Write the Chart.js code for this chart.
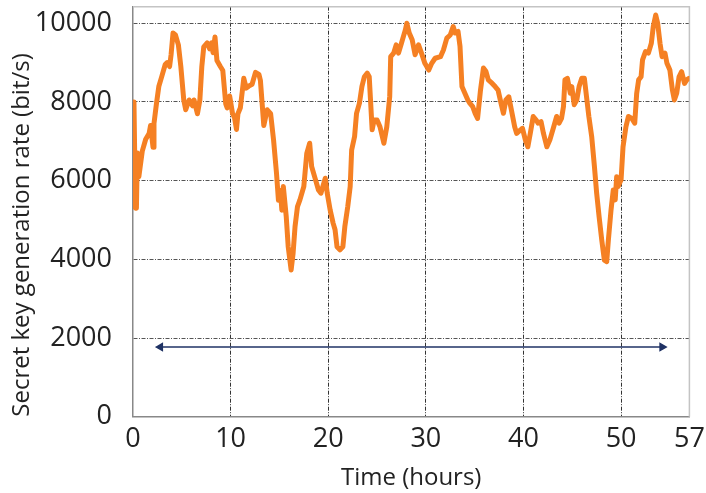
<!DOCTYPE html>
<html>
<head>
<meta charset="utf-8">
<title>Secret key generation rate</title>
<style>
  html, body { margin: 0; padding: 0; background: #fff; }
  #wrap { width: 706px; height: 493px; }
</style>
</head>
<body>
<div id="wrap"><canvas id="rateChart"></canvas></div>
<script src="https://cdn.jsdelivr.net/npm/chart.js@4.4.1/dist/chart.umd.min.js"></script>
<script>
// values
const hours = [
  0, 0.1, 0.25, 0.35, 0.45, 0.6, 0.95, 1.3, 1.65, 1.8, 2.05, 2.15, 2.4, 2.65, 2.95, 3.3, 3.5, 3.75, 3.9, 4.1,
  4.35, 4.65, 4.9, 5.2, 5.4, 5.75, 6.1, 6.25, 6.6, 6.85, 7.05, 7.25, 7.6, 7.85, 8.05, 8.2, 8.4, 8.6, 8.95, 9.2,
  9.5, 9.65, 9.9, 10.2, 10.4, 10.6, 10.75, 11.0, 11.35, 11.6, 11.85, 12.2, 12.55, 12.9, 13.05, 13.4, 13.75, 14.1, 14.4, 14.7,
  14.9, 15.1, 15.25, 15.4, 15.7, 15.9, 16.2, 16.4, 16.6, 16.85, 17.1, 17.5, 17.8, 18.1, 18.3, 18.7, 19.0, 19.25, 19.45, 19.7,
  19.9, 20.2, 20.5, 20.7, 20.9, 21.2, 21.5, 21.7, 22.0, 22.25, 22.4, 22.7, 22.9, 23.2, 23.45, 23.7, 24.0, 24.2, 24.5, 24.7,
  25.0, 25.3, 25.7, 26.0, 26.3, 26.4, 26.7, 26.96, 27.2, 27.5, 27.9, 28.05, 28.3, 28.6, 28.9, 29.25, 29.5, 29.9, 30.3, 30.6,
  30.95, 31.5, 31.8, 32.15, 32.5, 32.8, 33.0, 33.3, 33.5, 33.7, 34.0, 34.3, 34.5, 34.8, 35.05, 35.3, 35.6, 35.9, 36.15, 36.4,
  36.8, 37.1, 37.4, 37.7, 37.95, 38.2, 38.5, 38.8, 39.1, 39.3, 39.7, 39.9, 40.2, 40.45, 40.7, 41.0, 41.3, 41.5, 41.8, 42.05,
  42.4, 42.7, 43.1, 43.4, 43.65, 43.9, 44.1, 44.25, 44.5, 44.8, 44.95, 45.2, 45.46, 45.7, 45.97, 46.24, 46.5, 46.7, 46.99, 47.27,
  47.5, 47.75, 48.02, 48.29, 48.53, 48.7, 48.97, 49.2, 49.4, 49.55, 49.7, 50.0, 50.2, 50.5, 50.75, 51.1, 51.4, 51.6, 51.8, 52.05,
  52.2, 52.5, 52.8, 53.1, 53.3, 53.55, 53.75, 53.99, 54.2, 54.5, 54.7, 55.0, 55.26, 55.46, 55.7, 55.94, 56.2, 56.5, 56.72, 56.96
];
const rate = [
  7600, 8000, 5300, 5300, 6700, 6100, 6750, 7050, 7200, 7400, 6850, 7450, 7950, 8400, 8650, 8950, 9000, 8900, 9200, 9750,
  9700, 9450, 8900, 8050, 7800, 8050, 7900, 8050, 7700, 8050, 8900, 9400, 9500, 9350, 9500, 9250, 9650, 9050, 8900, 8800,
  7950, 7850, 8150, 7700, 7600, 7300, 7700, 7850, 8600, 8350, 8400, 8450, 8750, 8700, 8550, 7400, 7800, 7700, 7030, 6190,
  5500, 5750, 5250, 5850, 5080, 4320, 3730, 4150, 4830, 5340, 5510, 5850, 6690, 6950, 6360, 6020, 5760, 5680, 5850, 6060,
  5680, 5250, 4920, 4750, 4320, 4240, 4320, 4830, 5340, 5850, 6780, 7120, 7710, 7970, 8390, 8640, 8730, 8640, 7290, 7540,
  7540, 7370, 6950, 7370, 8140, 9150, 9240, 9450, 9240, 9490, 9830, 10000, 9750, 9580, 9200, 9450, 9280, 8980, 8810, 8980,
  9110, 9150, 9320, 9620, 9700, 9915, 9750, 9790, 9410, 8390, 8220, 8050, 7970, 7880, 7710, 7580, 8300, 8860, 8780, 8560,
  8470, 8390, 8300, 7970, 7710, 8050, 8130, 7750, 7370, 7200, 7290, 7330, 7030, 6860, 7200, 7630, 7540, 7460, 7500, 7200,
  6860, 7030, 7370, 7630, 7460, 7580, 7880, 8560, 8600, 8220, 8390, 7930, 8050, 8390, 8600, 8600, 8050, 7630, 7120, 6360,
  5680, 5080, 4490, 3980, 3940, 4490, 5250, 5760, 5510, 6100, 5850, 6020, 6860, 7370, 7630, 7580, 7460, 8220, 8560, 8640,
  9070, 9280, 9240, 9490, 9915, 10210, 10000, 9490, 9150, 9240, 8980, 8810, 8300, 8050, 8220, 8640, 8770, 8470, 8560, 8600
];

// the double arrow near the bottom
const arrowHours = [2.8, 54.2];
const arrowLevel = [1770, 1770];

const xTicks = [0, 10, 20, 30, 40, 50, 57];
const yTicks = [0, 2000, 4000, 6000, 8000, 10000];

const tickFont = { family: "'Open Sans', sans-serif", size: 27 };
const titleFont = { family: "'Open Sans', sans-serif", size: 24 };

// light top and right edges of the plot box
const framePlugin = {
  id: 'frame',
  beforeDatasetsDraw(chart) {
    const { ctx, chartArea: a } = chart;
    ctx.save();
    ctx.strokeStyle = '#c4c4c4';
    ctx.lineWidth = 1.5;
    ctx.beginPath();
    ctx.moveTo(a.left, a.top);
    ctx.lineTo(a.right, a.top);
    ctx.lineTo(a.right, a.bottom);
    ctx.stroke();
    ctx.restore();
  }
};

const ctx = document.getElementById('rateChart').getContext('2d');

const chart = new Chart(ctx, {
  type: 'line',
  data: {
    datasets: [
      {
        data: hours.map((h, i) => ({ x: h, y: rate[i] })),
        borderColor: '#f58023',
        borderWidth: 5,
        pointRadius: 0,
        tension: 0,
        borderJoinStyle: 'round',
        borderCapStyle: 'round'
      },
      {
        data: arrowHours.map((h, i) => ({ x: h, y: arrowLevel[i] })),
        borderColor: '#1f3264',
        backgroundColor: '#1f3264',
        borderWidth: 1.5,
        pointStyle: 'triangle',
        pointRadius: 4,
        pointRotation: [-90, 90],
        tension: 0
      }
    ]
  },
  options: {
    responsive: true,
    maintainAspectRatio: false,
    animation: false,
    layout: { padding: { left: 8, right: 16.6, top: 6.7, bottom: 0.6 } },
    plugins: {
      legend: { display: false },
      tooltip: { enabled: false }
    },
    scales: {
      x: {
        type: 'linear',
        min: 0,
        max: 57,
        afterBuildTicks: (s) => { s.ticks = xTicks.map(v => ({ value: v })); },
        afterFit: (s) => { s.height = 75.7; s.paddingLeft = 0; s.paddingRight = 0; },
        grid: {
          drawTicks: false,
          lineWidth: 1,
          color: (c) => (c.tick && (c.tick.value === 0 || c.tick.value === 57)) ? 'rgba(0,0,0,0)' : '#333'
        },
        border: { color: '#888', width: 1.5, dash: [4, 1.5, 1, 1.5] },
        ticks: {
          font: tickFont,
          color: '#222',
          padding: 6,
          maxRotation: 0,
          autoSkip: false,
          callback: (v) => String(v)
        },
        title: {
          display: true,
          text: 'Time (hours)',
          font: titleFont,
          color: '#222',
          padding: 0
        }
      },
      y: {
        min: 0,
        max: 10420,
        afterBuildTicks: (s) => { s.ticks = yTicks.map(v => ({ value: v })); },
        afterFit: (s) => { s.width = 125; s.paddingTop = 0; s.paddingBottom = 0; },
        grid: {
          drawTicks: false,
          lineWidth: 1,
          color: (c) => (c.tick && c.tick.value === 0) ? 'rgba(0,0,0,0)' : '#555'
        },
        border: { color: '#888', width: 1.5, dash: [4, 1.5, 1, 1.5] },
        ticks: {
          font: tickFont,
          color: '#222',
          padding: 21,
          autoSkip: false,
          callback: (v) => String(v)
        },
        title: {
          display: true,
          align: 'start',
          text: 'Secret key generation rate (bit/s)',
          font: titleFont,
          color: '#222',
          padding: 0
        }
      }
    }
  },
  plugins: [framePlugin]
});
</script>
</body>
</html>
